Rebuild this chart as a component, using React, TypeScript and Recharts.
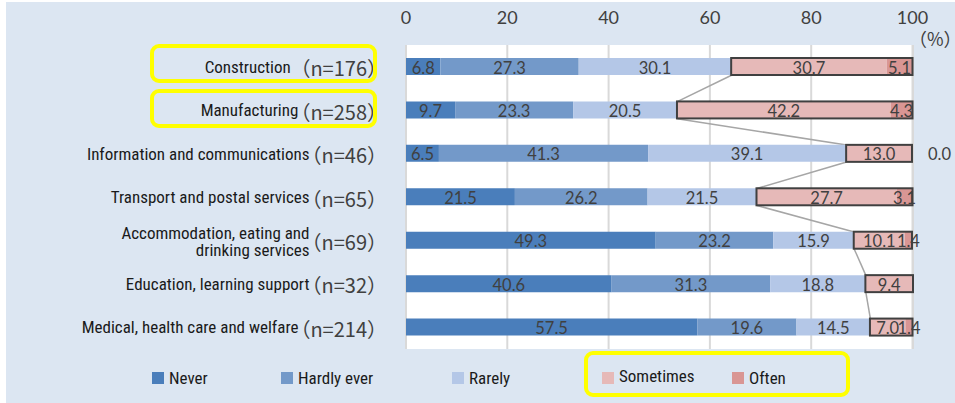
import React from "react";
import { BarChart, Bar, XAxis, YAxis, CartesianGrid, LabelList, usePlotArea } from "recharts";

// survey: how often harassment happens, by industry (%)
const industries = [
  "Construction\u2002",
  "Manufacturing",
  "Information and communications",
  "Transport and postal services",
  "Accommodation, eating and\ndrinking services",
  "Education, learning support",
  "Medical, health care and welfare",
];
const sampleSizes = [176, 258, 46, 65, 69, 32, 214];
const never = [6.8, 9.7, 6.5, 21.5, 49.3, 40.6, 57.5];
const hardlyEver = [27.3, 23.3, 41.3, 26.2, 23.2, 31.3, 19.6];
const rarely = [30.1, 20.5, 39.1, 21.5, 15.9, 18.8, 14.5];
const sometimes = [30.7, 42.2, 13.0, 27.7, 10.1, 9.4, 7.0];
const often: (number | null)[] = [5.1, 4.3, 0.0, 3.1, 1.4, null, 1.4];
const xTicks = [0, 20, 40, 60, 80, 100];
const seriesKeys = ["never", "hardlyEver", "rarely", "sometimes", "often"];
const seriesNames = ["Never", "Hardly ever", "Rarely", "Sometimes", "Often"];

const COLORS = ["#4a7ebb", "#7399c9", "#b4c7e7", "#e6b9b8", "#d99694"];
const LEGEND_X = [152, 281, 452, 602, 732];
const NARROW = "'Liberation Sans Narrow', 'Arial Narrow', 'Roboto Condensed', sans-serif";
const CJK = "'Noto Sans CJK JP', sans-serif";
const NUM = "Lato, 'Open Sans', sans-serif";
const BAR_SIZE = 17;
const NAME_SIZE = 17;
const N_SIZE = 20;

const rows = industries.map((name, i) => ({
  name,
  n: sampleSizes[i],
  never: never[i],
  hardlyEver: hardlyEver[i],
  rarely: rarely[i],
  sometimes: sometimes[i],
  often: often[i],
}));

let measureCtx: CanvasRenderingContext2D | null = null;
function textWidth(s: string, font: string) {
  if (!measureCtx) measureCtx = document.createElement("canvas").getContext("2d");
  if (!measureCtx) return s.length * 9;
  measureCtx.font = font;
  return measureCtx.measureText(s).width;
}

function CategoryTick(props: any) {
  const { x, y, payload } = props;
  const row = rows.find((r) => r.name === payload.value);
  if (!row) return null;
  const nPart = `（n=${row.n}）`;
  const nWidth = textWidth(nPart, `${N_SIZE}px ${CJK}`);
  const lines = row.name.split("\n");
  const lh = 17;
  const shift = lines.length > 1 ? 1 : 0;
  return (
    <g>
      {lines.map((ln, i) => (
        <text
          key={i}
          x={x - nWidth + 8}
          y={y + shift + (i - (lines.length - 1) / 2) * lh}
          textAnchor="end"
          dominantBaseline="central"
          fontFamily={NARROW}
          fontSize={NAME_SIZE}
          fill="#1a1a1a"
          style={{ whiteSpace: "pre" }}
        >
          {ln}
        </text>
      ))}
      <text x={x} y={y + 1} textAnchor="end" dominantBaseline="central" fontFamily={CJK} fontSize={N_SIZE} fill="#404040">
        {nPart}
      </text>
    </g>
  );
}

// sometimes + often drawn together so the outline sits on top of both
function PinkBox(props: any) {
  const { x, y, width, height, payload } = props;
  const unit = payload.sometimes ? width / payload.sometimes : 0;
  const oftenW = (payload.often ?? 0) * unit;
  return (
    <g>
      <rect x={x} y={y} width={width} height={height} fill={COLORS[3]} />
      <rect x={x + width} y={y} width={oftenW} height={height} fill={COLORS[4]} />
      <rect x={x} y={y} width={width + oftenW} height={height} fill="none" stroke="#404040" strokeWidth={2} />
    </g>
  );
}

const Empty = () => <g />;

function ValueLabel(props: any) {
  const { x, y, width, height, value } = props;
  if (value == null) return null;
  const v = Number(value);
  const zero = v === 0;
  return (
    <text
      x={zero ? x + width + 16 : x + width / 2}
      y={y + height / 2 + 1}
      textAnchor={zero ? "start" : "middle"}
      dominantBaseline="central"
      fontFamily={NUM}
      fontSize={16.5}
      fill="#404040"
    >
      {v.toFixed(1)}
    </text>
  );
}

function Connectors() {
  const plot = usePlotArea();
  if (!plot) return null;
  const band = plot.height / rows.length;
  const sx = (v: number) => plot.x + (v / 100) * plot.width;
  const start = rows.map((r) => r.never + r.hardlyEver + r.rarely);
  return (
    <g>
      {rows.slice(1).map((_, i) => (
        <line
          key={i}
          x1={sx(start[i])}
          y1={plot.y + band * (i + 0.5) + BAR_SIZE / 2}
          x2={sx(start[i + 1])}
          y2={plot.y + band * (i + 1.5) - BAR_SIZE / 2}
          stroke="#a6a6a6"
          strokeWidth={1.5}
        />
      ))}
    </g>
  );
}

const yellowBox = (left: number, top: number, width: number, height: number): React.CSSProperties => ({
  position: "absolute",
  left,
  top,
  width,
  height,
  boxSizing: "border-box",
  border: "4px solid #ffff00",
  borderRadius: 9,
  pointerEvents: "none",
});

export default function App() {
  return (
    <div style={{ position: "absolute", left: 0, top: 0, width: 955, height: 403, overflow: "hidden", background: "#fff" }}>
      <div style={{ position: "absolute", left: 6, top: 2, right: 0, bottom: 0, background: "#dce6f2" }} />
      <div style={{ position: "absolute", left: 0, top: 0 }}>
        <BarChart
          width={955}
          height={403}
          data={rows}
          layout="vertical"
          barSize={BAR_SIZE}
          margin={{ top: 0, right: 42, bottom: 54, left: 36 }}
        >
          <CartesianGrid horizontal={false} stroke="#d9d9d9" strokeWidth={2} fill="#ffffff" />
          <XAxis
            type="number"
            orientation="top"
            domain={[0, 100]}
            ticks={xTicks}
            interval={0}
            height={45}
            axisLine={false}
            tickLine={false}
            tickSize={0}
            tickMargin={21}
            tick={{ fill: "#404040", fontSize: 18, fontFamily: NUM }}
          />
          <YAxis
            type="category"
            dataKey="name"
            width={370}
            interval={0}
            axisLine={false}
            tickLine={false}
            tickSize={0}
            tickMargin={19}
            tick={<CategoryTick />}
          />
          {seriesKeys.map((key, i) => (
            <Bar
              key={key}
              dataKey={key}
              name={seriesNames[i]}
              stackId="a"
              fill={COLORS[i]}
              isAnimationActive={false}
              shape={i === 3 ? PinkBox : i === 4 ? Empty : undefined}
            >
              <LabelList dataKey={key} content={ValueLabel} />
            </Bar>
          ))}
          <Connectors />
        </BarChart>
      </div>
      <div style={{ position: "absolute", left: 909, top: 25, fontFamily: CJK, fontSize: 18, color: "#404040", whiteSpace: "nowrap" }}>（%）</div>
      {seriesNames.map((name, i) => (
        <div
          key={name}
          style={{
            position: "absolute",
            left: LEGEND_X[i],
            top: i === 3 ? 366 : 368,
            display: "flex",
            alignItems: "center",
            fontFamily: NARROW,
            fontSize: NAME_SIZE,
            color: "#1a1a1a",
            whiteSpace: "nowrap",
          }}
        >
          <span style={{ display: "inline-block", width: 12, height: 12, background: COLORS[i], marginRight: 5, marginTop: i === 3 ? 4 : 0 }} />
          {name}
        </div>
      ))}
      <div style={yellowBox(150, 44, 227, 39)} />
      <div style={yellowBox(150, 89, 227, 39)} />
      <div style={yellowBox(584, 351, 266, 46)} />
    </div>
  );
}
